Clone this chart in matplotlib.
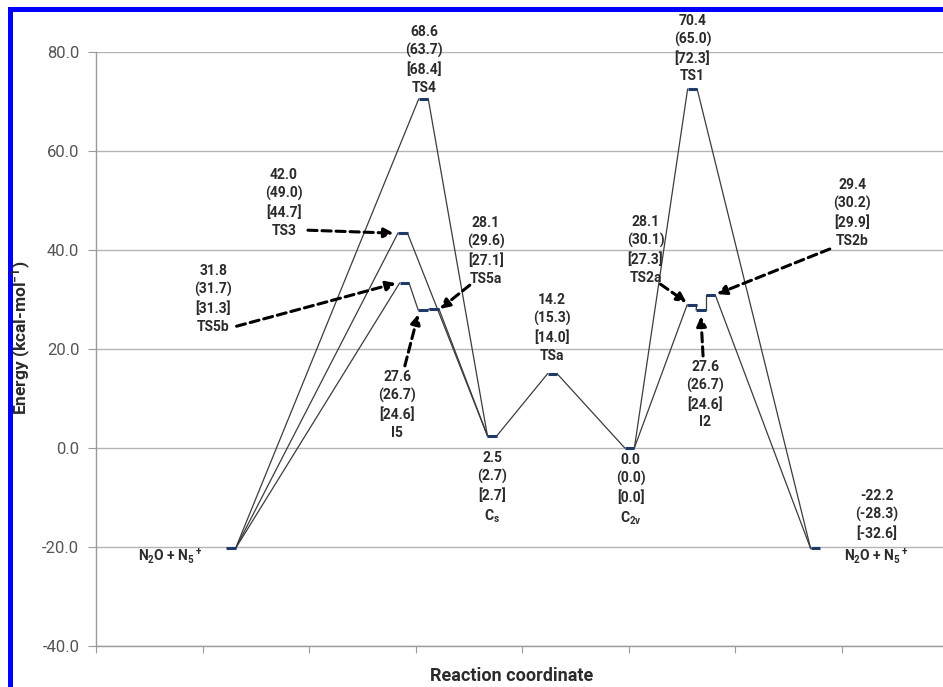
import numpy as np
import matplotlib.pyplot as plt
from matplotlib.patches import Rectangle

plt.rcParams['font.family'] = ['Roboto', 'DejaVu Sans']
plt.rcParams['mathtext.fontset'] = 'custom'
plt.rcParams['mathtext.rm'] = 'Roboto'
plt.rcParams['mathtext.bf'] = 'Roboto:bold'
plt.rcParams['mathtext.it'] = 'Roboto:italic'
plt.rcParams['mathtext.default'] = 'bf'

# species along the reaction coordinate
species = ['N2O_L', 'TS3', 'TS5b', 'TS4', 'I5', 'TS5a', 'Cs', 'TSa',
           'C2v', 'TS1', 'TS2a', 'I2', 'TS2b', 'N2O_R']
coord = [1.265, 2.88, 2.895, 3.075, 3.07, 3.175, 3.72, 4.285,
         5.01, 5.60, 5.595, 5.68, 5.77, 6.755]
energy = [-20.3, 43.4, 33.3, 70.5, 27.9, 28.1, 2.5, 15.0,
          0.0, 72.5, 28.9, 27.9, 30.9, -20.3]

# energies printed next to each level
e_main = [None, 42.0, 31.8, 68.6, 27.6, 28.1, 2.5, 14.2, 0.0, 70.4, 28.1, 27.6, 29.4, -22.2]
e_paren = [None, 49.0, 31.7, 63.7, 26.7, 29.6, 2.7, 15.3, 0.0, 65.0, 30.1, 26.7, 30.2, -28.3]
e_brack = [None, 44.7, 31.3, 68.4, 24.6, 27.1, 2.7, 14.0, 0.0, 72.3, 27.3, 24.6, 29.9, -32.6]
names = [r'N$_2$O + N$_5$$^+$', 'TS3', 'TS5b', 'TS4', 'I5', 'TS5a', r'C$_s$', 'TSa',
         r'C$_{2v}$', 'TS1', 'TS2a', 'I2', 'TS2b', r'N$_2$O + N$_5$$^+$']

# pathways (from level -> to level)
links = [('N2O_L', 'TS4'), ('N2O_L', 'TS3'), ('N2O_L', 'TS5b'),
         ('TS4', 'Cs'), ('TS3', 'Cs'), ('TS5b', 'I5'), ('I5', 'TS5a'),
         ('TS5a', 'Cs'), ('Cs', 'TSa'), ('TSa', 'C2v'), ('C2v', 'TS1'),
         ('C2v', 'TS2a'), ('TS2a', 'I2'), ('I2', 'TS2b'),
         ('TS1', 'N2O_R'), ('TS2b', 'N2O_R')]

# label block centres (data units)
label_pos = {'N2O_L': (0.695, -21.8), 'TS3': (1.765, 49.5), 'TS5b': (1.10, 30.1),
             'TS4': (3.08, 78.4), 'I5': (2.83, 8.7), 'TS5a': (3.66, 39.8),
             'Cs': (3.72, -8.1), 'TSa': (4.28, 24.2), 'C2v': (5.02, -8.4),
             'TS1': (5.60, 80.7), 'TS2a': (5.16, 40.0), 'I2': (5.72, 10.8),
             'TS2b': (7.10, 47.5), 'N2O_R': (7.33, -16.1)}

# dashed arrows: species, tail, offset of head from the level
arrows = [('TS3', (1.99, 44.0), (-0.085, 0.0)),
          ('TS5b', (1.32, 24.6), (-0.08, 0.0)),
          ('I5', (2.90, 16.6), (-0.045, -0.9)),
          ('TS5a', (3.51, 32.9), (0.055, 0.0)),
          ('TS2a', (5.30, 33.1), (-0.05, 0.5)),
          ('I2', (5.70, 18.6), (0.0, -1.3)),
          ('TS2b', (6.89, 40.2), (0.06, 0.2))]

half = 0.045
idx = {s: i for i, s in enumerate(species)}
txt_col = '#2b2b2b'

fig = plt.figure(figsize=(9.43, 6.87), dpi=100)
ax = fig.add_axes([96 / 943, 41 / 687, 847 / 943, 594 / 687])

for a, b in links:
    i, j = idx[a], idx[b]
    ax.plot([coord[i] + half, coord[j] - half], [energy[i], energy[j]],
            color='#3c3c3c', lw=0.9, zorder=2)

for i in range(len(species)):
    ax.plot([coord[i] - half, coord[i] + half], [energy[i], energy[i]],
            color='#1f3a66', lw=2.2, solid_capstyle='butt', zorder=3)

for s, (lx, ly) in label_pos.items():
    i = idx[s]
    if e_main[i] is None:
        block = names[i]
    else:
        block = '{:.1f}\n({:.1f})\n[{:.1f}]\n{}'.format(e_main[i], e_paren[i], e_brack[i], names[i])
    ax.text(lx, ly, block, ha='center', va='center', fontsize=10,
            fontweight='bold', color=txt_col, linespacing=1.35, zorder=5)

for s, tail, (dx, dy) in arrows:
    i = idx[s]
    ax.annotate('', xy=(coord[i] + dx, energy[i] + dy), xytext=tail,
                arrowprops=dict(arrowstyle='-|>', lw=2.2, ls=(0, (3, 1.6)),
                                color='black', mutation_scale=14,
                                shrinkA=0, shrinkB=0), zorder=6)

ax.set_xlim(0, 847 / 106.5)
ax.set_ylim(-40, 80)
ax.set_xticks(np.arange(0, 8))
ax.set_yticks(np.arange(-40, 81, 20))
ax.set_yticklabels(['{:.1f}'.format(v) for v in np.arange(-40, 81, 20)])
ax.tick_params(axis='x', labelbottom=False, direction='out', length=5, color='#9a9a9a')
ax.tick_params(axis='y', direction='out', length=6, color='#9a9a9a',
               labelsize=12, labelcolor='#555555', pad=6)
ax.grid(axis='y', color='#b4b4b4', lw=1.0)
ax.set_axisbelow(True)
for side in ['top', 'right']:
    ax.spines[side].set_visible(False)
for side in ['left', 'bottom']:
    ax.spines[side].set_color('#9a9a9a')
    ax.spines[side].set_linewidth(1.0)

fig.text(21 / 943, 1 - 338 / 687, 'Energy (kcal-mol$^{-1}$)', rotation=90,
         ha='center', va='center', fontsize=12.5, fontweight='bold', color=txt_col)
fig.text(512 / 943, 1 - 676 / 687, 'Reaction coordinate', ha='center', va='center',
         fontsize=13, fontweight='bold', color=txt_col)

# blue frame on the left and top
fig.add_artist(Rectangle((8 / 943, 0), 5 / 943, 680 / 687, transform=fig.transFigure,
                         color='#0000ff', lw=0))
fig.add_artist(Rectangle((8 / 943, 675 / 687), 935 / 943, 5 / 687, transform=fig.transFigure,
                         color='#0000ff', lw=0))

fig.savefig('out.png', dpi=100)
